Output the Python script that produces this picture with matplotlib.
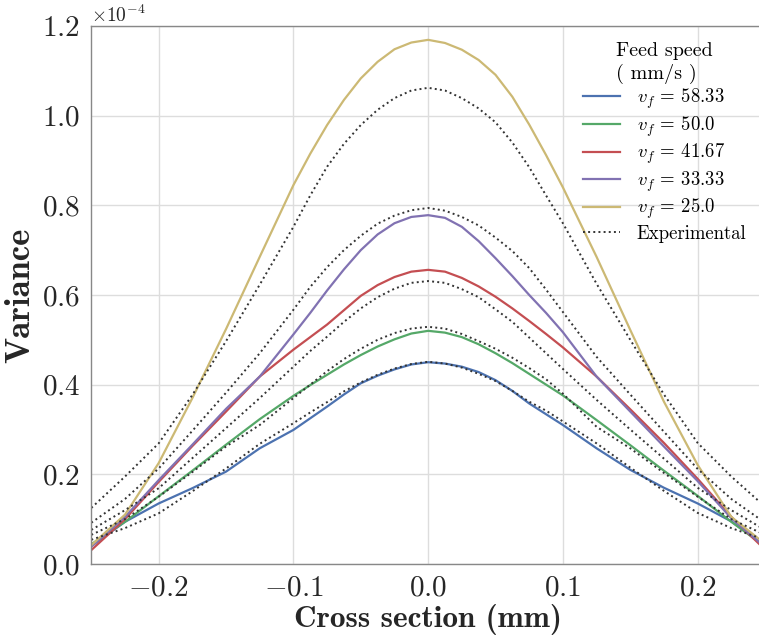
import matplotlib
matplotlib.use("Agg")
import matplotlib.pyplot as plt
import numpy as np

plt.rcParams['font.family'] = 'serif'
plt.rcParams['font.serif'] = ['cmr10']
plt.rcParams['mathtext.fontset'] = 'cm'
plt.rcParams['axes.formatter.use_mathtext'] = True
plt.rcParams['axes.unicode_minus'] = True

# cross section positions (mm), denser around the centre
x = [-0.25, -0.225, -0.2, -0.175, -0.15, -0.125, -0.1,
     -0.0875, -0.075, -0.0625, -0.05, -0.0375, -0.025, -0.0125, 0.0,
     0.0125, 0.025, 0.0375, 0.05, 0.0625, 0.075, 0.0875,
     0.1, 0.125, 0.15, 0.175, 0.2, 0.225, 0.25]

# simulated variance (x 1e-4) per feed speed
var_5833 = [0.040, 0.094, 0.135, 0.169, 0.206, 0.258, 0.299,
            0.325, 0.351, 0.378, 0.403, 0.420, 0.434, 0.445, 0.450,
            0.447, 0.440, 0.428, 0.410, 0.386, 0.358, 0.334,
            0.310, 0.258, 0.210, 0.170, 0.135, 0.095, 0.040]
var_500 = [0.044, 0.094, 0.151, 0.208, 0.266, 0.323, 0.375,
           0.399, 0.422, 0.445, 0.466, 0.485, 0.501, 0.514, 0.520,
           0.516, 0.506, 0.490, 0.470, 0.448, 0.424, 0.400,
           0.376, 0.321, 0.265, 0.208, 0.152, 0.094, 0.039]
var_4167 = [0.031, 0.100, 0.183, 0.263, 0.340, 0.418, 0.478,
            0.506, 0.534, 0.566, 0.598, 0.622, 0.640, 0.652, 0.656,
            0.652, 0.638, 0.619, 0.596, 0.570, 0.542, 0.513,
            0.483, 0.418, 0.345, 0.270, 0.190, 0.105, 0.032]
var_3333 = [0.039, 0.105, 0.187, 0.266, 0.346, 0.418, 0.512,
            0.560, 0.610, 0.657, 0.700, 0.735, 0.760, 0.774, 0.778,
            0.772, 0.752, 0.720, 0.682, 0.642, 0.600, 0.560,
            0.517, 0.418, 0.340, 0.262, 0.185, 0.102, 0.038]
var_250 = [0.042, 0.110, 0.225, 0.370, 0.524, 0.685, 0.845,
           0.915, 0.979, 1.035, 1.083, 1.120, 1.148, 1.163, 1.169,
           1.162, 1.147, 1.124, 1.091, 1.042, 0.980, 0.912,
           0.840, 0.685, 0.522, 0.362, 0.221, 0.105, 0.045]

# measured variance (x 1e-4)
exp_1 = [0.054, 0.080, 0.113, 0.162, 0.213, 0.268, 0.314,
         0.338, 0.361, 0.385, 0.405, 0.422, 0.436, 0.446, 0.451,
         0.447, 0.438, 0.424, 0.408, 0.386, 0.362, 0.342,
         0.318, 0.269, 0.215, 0.163, 0.114, 0.080, 0.054]
exp_2 = [0.065, 0.100, 0.150, 0.205, 0.262, 0.310, 0.370,
         0.400, 0.430, 0.457, 0.480, 0.500, 0.515, 0.525, 0.529,
         0.525, 0.513, 0.497, 0.480, 0.460, 0.437, 0.412,
         0.380, 0.306, 0.258, 0.203, 0.150, 0.100, 0.065]
exp_3 = [0.076, 0.120, 0.169, 0.236, 0.303, 0.370, 0.440,
         0.475, 0.507, 0.540, 0.570, 0.595, 0.614, 0.627, 0.631,
         0.627, 0.613, 0.595, 0.568, 0.540, 0.505, 0.470,
         0.435, 0.366, 0.300, 0.235, 0.170, 0.120, 0.076]
exp_4 = [0.092, 0.145, 0.213, 0.297, 0.382, 0.470, 0.567,
         0.618, 0.662, 0.700, 0.732, 0.759, 0.777, 0.789, 0.794,
         0.788, 0.774, 0.755, 0.728, 0.698, 0.660, 0.612,
         0.562, 0.462, 0.378, 0.295, 0.212, 0.145, 0.092]
exp_5 = [0.125, 0.195, 0.269, 0.377, 0.497, 0.623, 0.752,
         0.822, 0.886, 0.937, 0.979, 1.013, 1.039, 1.056, 1.062,
         1.056, 1.039, 1.016, 0.985, 0.940, 0.885, 0.822,
         0.760, 0.625, 0.500, 0.378, 0.270, 0.195, 0.128]

speeds = ['58.33', '50.0', '41.67', '33.33', '25.0']
colors = ['#4C72B0', '#55A868', '#C44E52', '#8172B2', '#CCB974']

fig = plt.figure(figsize=(7.59, 6.39), dpi=100)
ax = fig.add_axes([0.1203, 0.1174, 0.8876, 0.842])

xs = np.array(x)
for v, s, c in zip([var_5833, var_500, var_4167, var_3333, var_250], speeds, colors):
    ax.plot(xs, np.array(v) * 1e-4, color=c, lw=1.6, label='$v_f$ = ' + s)

for i, e in enumerate([exp_1, exp_2, exp_3, exp_4, exp_5]):
    ax.plot(xs, np.array(e) * 1e-4, color='#333333', ls=':', lw=1.4,
            label='Experimental' if i == 0 else None)

ax.set_xlim(-0.25, 0.25)
ax.set_ylim(0, 1.2e-4)
ax.set_xticks([-0.2, -0.1, 0.0, 0.1, 0.2])
ax.set_yticks(np.arange(0, 1.21e-4, 0.2e-4))
ax.ticklabel_format(axis='y', style='sci', scilimits=(0, 0))
ax.yaxis.get_offset_text().set_fontsize(14)
ax.yaxis.get_offset_text().set_color('#555555')

ax.grid(True, color='#dddddd', lw=1.0)
ax.set_axisbelow(True)
for side in ['left', 'bottom', 'top', 'right']:
    ax.spines[side].set_color('#888888')
    ax.spines[side].set_linewidth(1.0)
ax.tick_params(length=0, labelsize=21, colors='#262626', pad=8)

ax.set_xlabel('Cross section (mm)', fontsize=22.5, fontfamily='cmb10', color='#262626', labelpad=2)
ax.set_ylabel('Variance', fontsize=25, fontfamily='cmb10', color='#262626', labelpad=4)

leg = ax.legend(title='Feed speed\n( mm/s )', loc='upper right', frameon=False,
                fontsize=13.5, title_fontsize=14.5, handlelength=2.0, labelspacing=0.17,
                handletextpad=0.9, bbox_to_anchor=(1.006, 0.96),
                bbox_transform=fig.transFigure)

fig.savefig('out.png', dpi=100)
